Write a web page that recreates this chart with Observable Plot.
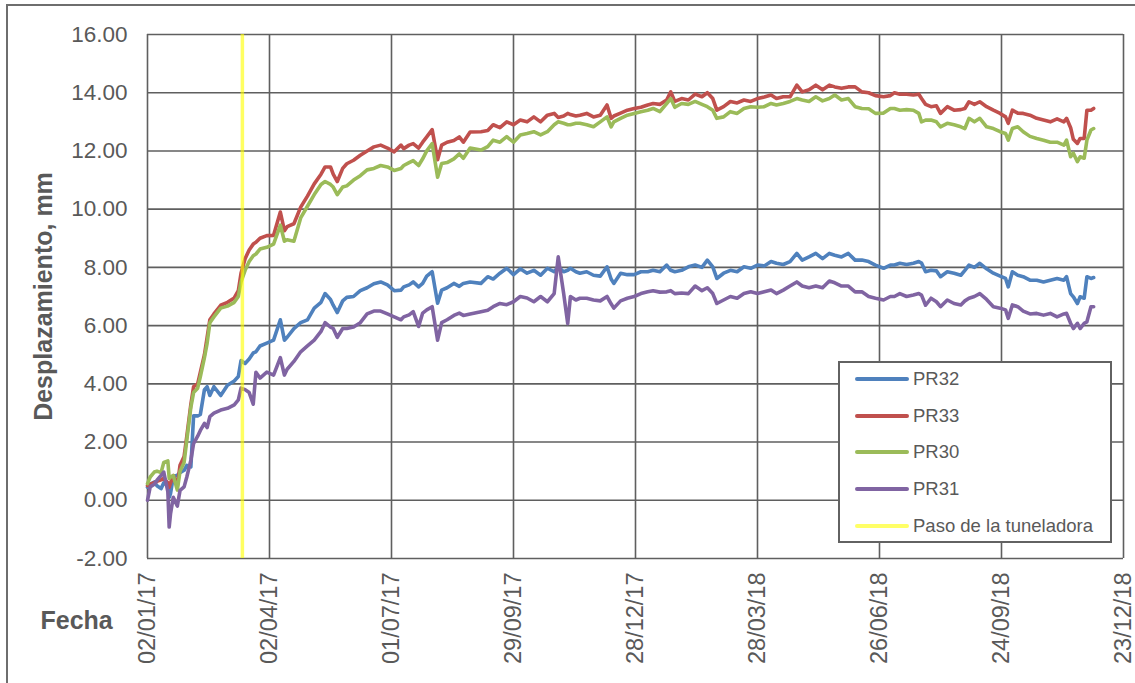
<!DOCTYPE html>
<html>
<head>
<meta charset="utf-8">
<script src="https://cdn.jsdelivr.net/npm/d3@7"></script>
<script src="https://cdn.jsdelivr.net/npm/@observablehq/plot@0.6"></script>
<style>
html, body { margin: 0; padding: 0; background: #fff; overflow: hidden; width: 1135px; height: 683px; }
#wrap { position: relative; width: 1135px; height: 683px; font-family: "Liberation Sans", Arial, sans-serif; }
#frame { position: absolute; left: 6px; top: 4px; width: 1300px; height: 900px; border: 2px solid #6e6e6e; box-sizing: border-box; pointer-events: none; }
#chart { position: absolute; left: 0; top: 0; }
#legend { position: absolute; left: 838px; top: 361px; width: 274px; height: 182px; background: #fff; border: 2px solid #626262; box-sizing: border-box; }
.item { position: absolute; left: 15px; height: 22px; line-height: 22px; font-size: 18.5px; color: #595959; white-space: nowrap; }
.sw { position: absolute; left: 0; top: 9px; width: 54px; height: 4px; border-radius: 2px; }
.lab { position: absolute; left: 58px; top: 0; }
</style>
</head>
<body>
<div id="wrap">
  <div id="chart"></div>
  <div id="legend"></div>
  <div id="frame"></div>
</div>
<script>
// Days since 02/01/17 at which values were read
const dayOffsets = [0,2,5,7,10,12,15,16,17,19,22,24,27,29,32,34,37,39,42,44,46,49,54,59,64,67,69,72,75,78,80,83,88,93,98,101,103,108,113,118,123,128,131,135,137,140,144,147,152,157,162,167,172,177,182,187,
189,193,196,200,203,206,210,214,217,221,226,230,233,238,
246,251,255,260,265,270,275,280,285,290,295,300,303,307,310,312,316,319,324,329,334,339,342,344,349,354,359,364,369,373,378,383,386,
389,394,399,404,409,413,417,420,425,430,435,440,445,450,455,460,464,469,474,479,483,488,493,498,503,507,512,517,522,527,532,537,543,548,
551,555,560,565,569,571,574,578,582,585,590,595,600,603,606,610,614,619,624,629,633,635,638,642,646,651,656,661,666,671,676,678,681,683,686,688,691,693,696,698];

const PR32 = [0.45,0.55,0.63,0.5,0.4,0.6,0.5,0.1,0.23,0.8,0.86,0.95,1.03,1.2,1.15,2.9,2.9,2.95,3.8,3.9,3.6,3.9,3.6,3.95,4.1,4.25,4.8,4.7,4.85,5.06,5.1,5.3,5.4,5.5,6.2,5.5,5.6,5.9,6.1,6.2,6.6,6.8,7.1,6.9,6.7,6.45,6.85,6.97,7.0,7.2,7.3,7.44,7.5,7.4,7.2,7.22,
7.33,7.4,7.5,7.33,7.45,7.7,7.85,6.77,7.22,7.3,7.45,7.35,7.45,7.5,
7.45,7.68,7.6,7.8,7.97,7.75,7.95,7.8,7.9,7.73,7.97,7.85,8.02,7.85,7.9,7.97,7.85,7.8,7.85,7.73,7.7,8.02,7.6,7.45,7.8,7.75,7.75,7.85,7.85,7.9,7.85,8.08,7.9,
7.85,7.9,8.02,8.08,8.0,8.25,8.02,7.62,7.8,7.9,7.85,8.02,7.97,8.08,8.05,8.2,8.14,8.1,8.2,8.48,8.25,8.36,8.48,8.3,8.48,8.42,8.36,8.48,8.25,8.25,8.2,8.08,7.97,8.08,
8.08,8.14,8.1,8.14,8.2,8.15,7.85,7.9,7.88,7.68,7.85,7.8,7.73,7.9,8.08,8.0,8.14,7.95,7.8,7.7,7.62,7.33,7.85,7.73,7.68,7.56,7.56,7.5,7.56,7.62,7.56,7.68,7.1,6.99,6.76,6.99,6.94,7.68,7.62,7.65];

const PR33 = [0.5,0.55,0.6,0.65,0.7,0.75,0.6,0.45,0.6,0.85,0.5,1.2,1.5,2.2,3.3,3.9,4.0,4.4,5.0,5.6,6.2,6.4,6.7,6.8,6.95,7.2,7.8,8.3,8.6,8.8,8.86,9.0,9.09,9.1,9.9,9.26,9.4,9.5,10.07,10.45,10.87,11.2,11.45,11.45,11.2,10.95,11.4,11.56,11.68,11.85,12.0,12.14,12.2,12.1,11.97,12.2,
12.08,12.2,12.25,12.1,12.3,12.48,12.73,11.7,12.2,12.3,12.36,12.48,12.3,12.65,
12.66,12.7,12.9,12.8,13.0,12.9,13.06,13.0,13.17,13.0,13.23,13.29,13.15,13.2,13.29,13.25,13.2,13.23,13.29,13.17,13.23,13.58,13.12,13.2,13.3,13.4,13.46,13.5,13.58,13.63,13.6,13.75,14.03,
13.7,13.8,13.75,13.95,13.86,14.0,13.8,13.4,13.52,13.7,13.65,13.75,13.7,13.8,13.85,13.92,13.8,13.86,13.86,14.26,14.03,14.1,14.26,14.1,14.26,14.2,14.15,14.2,14.2,14.03,14.0,13.9,13.86,13.9,
14.0,13.95,13.95,13.92,13.95,13.8,13.6,13.52,13.55,13.29,13.52,13.4,13.42,13.46,13.69,13.6,13.69,13.52,13.4,13.29,13.17,12.95,13.4,13.3,13.29,13.23,13.12,13.06,13.0,13.1,13.0,13.12,12.8,12.4,12.26,12.43,12.43,13.4,13.4,13.46];

const PR30 = [0.57,0.8,0.97,1.0,0.95,1.3,1.35,0.75,0.8,0.85,0.35,1.0,1.3,2.07,3.2,3.7,3.85,4.25,4.9,5.4,6.1,6.3,6.6,6.67,6.8,7.0,7.5,7.9,8.2,8.4,8.46,8.63,8.69,8.8,9.45,8.9,8.95,8.9,9.7,10.1,10.5,10.85,10.95,10.85,10.76,10.5,10.76,10.8,11.0,11.15,11.35,11.4,11.5,11.45,11.33,11.4,
11.5,11.6,11.67,11.5,11.73,12.0,12.25,11.1,11.57,11.6,11.73,11.9,11.75,12.1,
12.03,12.15,12.37,12.3,12.49,12.3,12.55,12.6,12.66,12.55,12.66,12.9,13.0,12.95,12.9,12.9,12.95,12.95,12.9,12.83,13.0,13.17,12.83,13.0,13.12,13.23,13.29,13.35,13.4,13.46,13.35,13.63,13.8,
13.5,13.63,13.6,13.7,13.6,13.52,13.4,13.12,13.17,13.35,13.29,13.46,13.52,13.5,13.52,13.63,13.58,13.63,13.7,13.8,13.75,13.7,13.86,13.72,13.8,13.92,13.75,13.8,13.52,13.46,13.45,13.29,13.3,13.46,
13.46,13.4,13.42,13.4,13.29,13.0,13.06,13.06,13.0,12.83,12.95,12.9,12.83,12.77,13.12,13.0,13.12,12.83,12.77,12.66,12.6,12.37,12.77,12.83,12.66,12.5,12.43,12.37,12.3,12.3,12.2,12.37,11.8,11.92,11.63,11.8,11.75,12.37,12.72,12.77];

const PR31 = [0.0,0.46,0.55,0.69,0.85,0.97,0.3,-0.92,-0.46,0.1,-0.2,0.34,0.46,0.8,1.38,1.95,2.2,2.4,2.64,2.5,2.87,2.99,3.1,3.16,3.28,3.45,3.85,3.8,3.7,3.3,4.4,4.2,4.4,4.3,4.9,4.3,4.5,4.77,5.1,5.3,5.5,5.8,6.1,5.95,5.9,5.6,5.9,5.9,5.95,6.1,6.4,6.5,6.5,6.4,6.3,6.2,
6.3,6.37,6.48,5.97,6.43,6.54,6.65,5.5,6.1,6.2,6.35,6.43,6.35,6.4,
6.48,6.53,6.65,6.76,6.72,6.82,7.0,6.95,6.82,7.0,6.82,7.1,8.36,7.1,6.07,7.0,6.88,6.94,6.94,6.88,6.85,7.0,6.75,6.6,6.85,6.94,7.0,7.1,7.16,7.2,7.15,7.16,7.2,
7.1,7.12,7.1,7.36,7.2,7.3,7.1,6.76,6.88,7.0,6.94,7.1,7.16,7.1,7.16,7.22,7.1,7.22,7.36,7.5,7.36,7.3,7.36,7.3,7.53,7.47,7.36,7.36,7.16,7.16,7.0,6.94,6.88,7.0,
7.0,7.1,7.0,7.05,7.1,7.05,6.7,6.94,6.82,6.65,6.88,6.76,6.71,6.85,6.94,7.0,7.1,6.9,6.65,6.6,6.54,6.25,6.71,6.65,6.5,6.4,6.42,6.36,6.42,6.3,6.4,6.42,6.08,5.9,6.08,5.9,6.08,6.13,6.65,6.65];

const seriesNames = ["PR32", "PR33", "PR30", "PR31"];
const seriesColors = ["#4F81BD", "#C0504D", "#9BBB59", "#8064A2"];
const passLabel = "Paso de la tuneladora";
const passDay = 70;            // days since 02/01/17
const xTickLabels = ["02/01/17","02/04/17","01/07/17","29/09/17","28/12/17","28/03/18","26/06/18","24/09/18","23/12/18"];
const yTicks = [-2, 0, 2, 4, 6, 8, 10, 12, 14, 16];
const xTitle = "Fecha";
const yTitle = "Desplazamiento, mm";

// ---- build table ----
const parseD = d3.utcParse("%d/%m/%y");
const fmtD = d3.utcFormat("%d/%m/%y");
const xTicks = xTickLabels.map(parseD);
const start = xTicks[0];
const toDate = d => new Date(start.getTime() + d * 864e5);
const seriesValues = [PR32, PR33, PR30, PR31];
const rows = [];
seriesNames.forEach((name, k) => {
  seriesValues[k].forEach((v, i) => rows.push({ name, date: toDate(dayOffsets[i]), value: v }));
});
const passDate = toDate(passDay);

const FONT = '"Liberation Sans", Arial, sans-serif';
const GRID = "#5f5f5f";

const chart = Plot.plot({
  width: 1135,
  height: 683,
  marginLeft: 147,
  marginRight: 12,
  marginTop: 34,
  marginBottom: 125,
  style: { fontFamily: FONT, fontSize: "22px", color: "#595959", background: "transparent", overflow: "visible" },
  x: { type: "utc", domain: [xTicks[0], xTicks[xTicks.length - 1]] },
  y: { domain: [-2, 16] },
  color: { domain: seriesNames, range: seriesColors },
  marks: [
    Plot.gridX(xTicks, { stroke: GRID, strokeOpacity: 1, strokeWidth: 1.6 }),
    Plot.gridY(yTicks, { stroke: GRID, strokeOpacity: 1, strokeWidth: 1.6 }),
    Plot.line(rows, { x: "date", y: "value", z: "name", stroke: "name", strokeWidth: 3.6, strokeLinejoin: "round", strokeLinecap: "round" }),
    Plot.ruleX([passDate], { stroke: "#ffff00", strokeOpacity: 0.62, strokeWidth: 3.5 }),
    Plot.axisX(xTicks, { tickFormat: fmtD, tickRotate: -90, tickSize: 0, tickPadding: 14, fontSize: 23.5, label: null }),
    Plot.axisY(yTicks, { tickFormat: d => d.toFixed(2), tickSize: 0, tickPadding: 20, fontSize: 22.5, label: null }),
    Plot.text([xTitle], { text: d => d, frameAnchor: "bottom-left", dx: -107, dy: 70, textAnchor: "start", fontWeight: "bold", fontSize: 25, fill: "#595959" }),
    Plot.text([yTitle], { text: d => d, frameAnchor: "left", dx: -104, rotate: -90, textAnchor: "middle", fontWeight: "bold", fontSize: 25, fill: "#595959" })
  ]
});
document.getElementById("chart").appendChild(chart);

// ---- legend ----
const legend = document.getElementById("legend");
const legendItems = seriesNames.map((n, i) => ({ label: n, color: seriesColors[i] }))
  .concat([{ label: passLabel, color: "#ffff66" }]);
const rowCenters = [16, 53, 89, 126, 163];
legendItems.forEach((it, i) => {
  const div = document.createElement("div");
  div.className = "item";
  div.style.top = (rowCenters[i] - 11) + "px";
  const sw = document.createElement("div");
  sw.className = "sw";
  sw.style.background = it.color;
  const lab = document.createElement("div");
  lab.className = "lab";
  lab.textContent = it.label;
  div.appendChild(sw);
  div.appendChild(lab);
  legend.appendChild(div);
});
</script>
</body>
</html>
